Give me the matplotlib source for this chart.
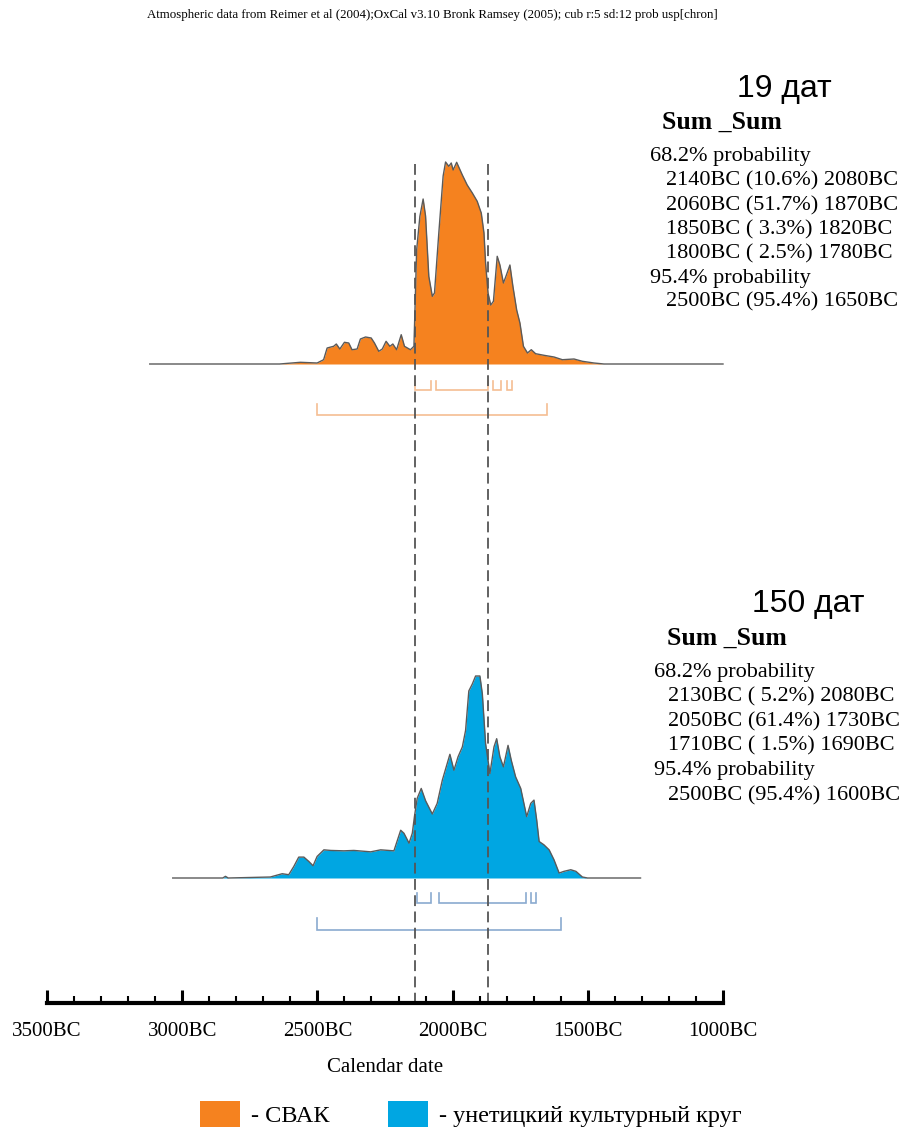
import matplotlib
matplotlib.use("Agg")
import matplotlib.pyplot as plt
from matplotlib.patches import Patch
from matplotlib.ticker import MultipleLocator

# ---------------- data ----------------
title_txt = ("Atmospheric data from Reimer et al (2004);OxCal v3.10 Bronk Ramsey (2005); "
             "cub r:5 sd:12 prob usp[chron]")

# СВАК, 19 dates: calendar years BC and relative probability
svak_years = [3120, 2640, 2563, 2501, 2477, 2464, 2440, 2430, 2417, 2400, 2384, 2372,
              2353, 2341, 2322, 2301, 2289, 2273, 2260, 2246, 2232, 2221, 2207, 2190,
              2178, 2156, 2143, 2133, 2121, 2109, 2100, 2088, 2075, 2067, 2051, 2035,
              2026, 2014, 2005, 1998, 1985, 1964, 1946, 1927, 1909, 1894, 1884, 1878,
              1869, 1859, 1849, 1835, 1825, 1812, 1801, 1788, 1777, 1763, 1751, 1738,
              1723, 1709, 1693, 1662, 1625, 1594, 1551, 1520, 1477, 1440, 1000]
svak_prob = [0, 0, 1.7, 1, 4.3, 16, 17.7, 20, 15, 21.7, 21, 14.3,
             15, 25, 27, 26, 21, 12.7, 15, 22.7, 17.7, 20, 14.3, 29.3,
             17.7, 14.3, 17.7, 114, 147.7, 165, 148, 87.7, 67.7, 71, 131, 188,
             202, 197.7, 201, 194, 201.7, 189, 179, 171, 162.7, 151, 131, 101,
             71, 59, 62.7, 107.7, 99, 81, 89, 99, 77.7, 54, 41, 17.7,
             11, 14.3, 10.3, 8.7, 7, 4.3, 5, 2.7, 1, 0, 0]

# унетицкий культурный круг, 150 dates
unet_years = [3035, 2850, 2840, 2830, 2674, 2630, 2606, 2587, 2569, 2550, 2532, 2516,
              2501, 2476, 2451, 2402, 2365, 2303, 2266, 2217, 2192, 2180, 2161, 2149,
              2141, 2131, 2116, 2100, 2075, 2057, 2038, 2020, 2010, 1995, 1980, 1964,
              1952, 1940, 1927, 1915, 1899, 1890, 1878, 1862, 1847, 1837, 1825, 1812,
              1795, 1783, 1767, 1748, 1726, 1711, 1699, 1689, 1680, 1662, 1643, 1625,
              1606, 1588, 1563, 1544, 1520, 1501, 1305]
unet_prob = [0, 0, 1.7, 0, 1, 4.3, 3.3, 11.7, 21, 21, 16.7, 12.3,
             21.7, 28.3, 27.7, 27.3, 27.7, 26.3, 28.3, 27.3, 48, 45, 35, 45,
             62, 80, 90, 77.7, 64.3, 75, 98.3, 115, 124.3, 108.3, 121.7, 131.7,
             148.3, 188, 195, 203, 203, 185, 135, 105, 131.7, 140, 121.7, 111.7,
             133.3, 118.3, 101.7, 90, 61.7, 75, 78.3, 58.3, 36.7, 33.3, 28.3, 18.3,
             5, 6.7, 8.3, 6.7, 1, 0, 0]

# highest posterior density ranges (start BC, end BC, percent)
svak_68 = [(2140, 2080, 10.6), (2060, 1870, 51.7), (1850, 1820, 3.3), (1800, 1780, 2.5)]
svak_95 = [(2500, 1650, 95.4)]
unet_68 = [(2130, 2080, 5.2), (2050, 1730, 61.4), (1710, 1690, 1.5)]
unet_95 = [(2500, 1600, 95.4)]

svak_n = "19 дат"
unet_n = "150 дат"
dash_years = [2140, 1870]

major_ticks = [3500, 3000, 2500, 2000, 1500, 1000]
tick_labels = [f"{t}BC" for t in major_ticks]

# ---------------- style ----------------
W, H = 900, 1131
X0, X1 = 47, 723           # pixel span of 3500BC .. 1000BC
ORANGE = "#F5821F"
BLUE = "#00A6E2"
EDGE = "#5a5a5a"
SERIF = "Liberation Serif"
SANS = "Liberation Sans"

plt.rcParams["font.family"] = [SERIF, "DejaVu Serif"]

fig = plt.figure(figsize=(W / 100, H / 100), dpi=100)
ax = fig.add_axes([X0 / W, 0, (X1 - X0) / W, 1])
ax.set_xlim(3500, 1000)
ax.set_ylim(H, 0)
ax.axis("off")


def fy(py):
    return 1 - py / H


def draw_dist(years, prob, base, color):
    top = max(prob)
    ys = [base - p / top * 202 for p in prob]
    ax.fill_between(years, base, ys, color=color, lw=0, clip_on=False)
    ax.plot(years, ys, color=EDGE, lw=1.0, clip_on=False)


def draw_ranges(ranges, y, h, color):
    for s, e, _ in ranges:
        ax.plot([s, s, e, e], [y - h, y, y, y - h], color=color, lw=1.2,
                solid_joinstyle="miter", clip_on=False)


def draw_block(x_head, y_head, name, x_sum, y_sum, x_lbl, x_rng, y0, step, r68, r95):
    fig.text(x_head / W, fy(y_head), name, family=SANS, fontsize=23, va="center")
    fig.text(x_sum / W, fy(y_sum), "Sum _Sum", fontsize=18.5, fontweight="bold", va="center")
    y = y0
    fig.text(x_lbl / W, fy(y), "68.2% probability", fontsize=16, va="center")
    for s, e, p in r68:
        y += step
        fig.text(x_rng / W, fy(y), f"{s}BC ({p:4.1f}%) {e}BC", fontsize=16, va="center")
    y += step
    fig.text(x_lbl / W, fy(y), "95.4% probability", fontsize=16, va="center")
    for s, e, p in r95:
        y += step
        fig.text(x_rng / W, fy(y), f"{s}BC ({p:4.1f}%) {e}BC", fontsize=16, va="center")


# distributions
draw_dist(svak_years, svak_prob, 364, ORANGE)
draw_dist(unet_years, unet_prob, 878, BLUE)

# range brackets
draw_ranges(svak_68, 390, 9, "#F5BD92")
draw_ranges(svak_95, 415, 11, "#F5BD92")
draw_ranges(unet_68, 903, 10, "#8AAAD0")
draw_ranges(unet_95, 930, 12, "#8AAAD0")

# dashed reference lines
ax.vlines(dash_years, 164, 1003, colors="#555555", lw=1.3, linestyles=(0, (6, 3)))

# text blocks on the right
draw_block(737, 89, svak_n, 662, 122, 650, 666, 157, 24.2, svak_68, svak_95)
draw_block(752, 604, unet_n, 667, 638, 654, 668, 672, 24.7, unet_68, unet_95)

fig.text(432 / W, fy(15), title_txt, fontsize=9.3, ha="center", va="center")

# calendar axis
axc = fig.add_axes([X0 / W, fy(1003), (X1 - X0) / W, 0.02])
axc.set_facecolor("none")
axc.set_xlim(3500, 1000)
axc.set_yticks([])
for side in ("top", "left", "right"):
    axc.spines[side].set_visible(False)
axc.spines["bottom"].set_linewidth(3)
axc.set_xticks(major_ticks)
axc.set_xticklabels(tick_labels, fontsize=15)
axc.xaxis.set_minor_locator(MultipleLocator(100))
axc.tick_params(axis="x", which="major", direction="in", length=9.5, width=2.2, pad=14)
axc.tick_params(axis="x", which="minor", direction="in", length=5, width=1.5)
axc.set_xlabel("Calendar date", fontsize=15, labelpad=12)

# legend
handles = [Patch(facecolor=ORANGE, edgecolor="none", label="- СВАК"),
           Patch(facecolor=BLUE, edgecolor="none", label="- унетицкий культурный круг")]
fig.legend(handles=handles, loc="center", bbox_to_anchor=(471 / W, fy(1114)), ncol=2,
           frameon=False, fontsize=17.5, handlelength=1.65, handleheight=1.3,
           handletextpad=0.45, columnspacing=2.4)

fig.savefig("out.png", dpi=100)
